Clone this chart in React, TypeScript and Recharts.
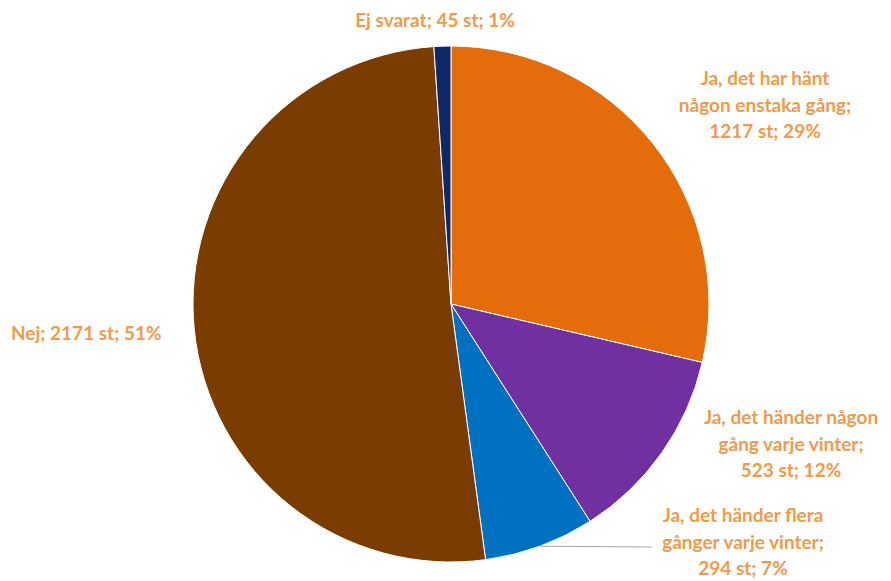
import React from 'react';
import { PieChart, Pie, Cell } from 'recharts';

const categories = [
  'Ja, det har hänt någon enstaka gång',
  'Ja, det händer någon gång varje vinter',
  'Ja, det händer flera gånger varje vinter',
  'Nej',
  'Ej svarat',
];
const counts = [1217, 523, 294, 2171, 45];
const colors = ['#E46C0A', '#7030A0', '#0070C0', '#7A3C00', '#0F2868'];

const data = categories.map((name, i) => ({ name, value: counts[i] }));

// label placement relative to pie centre, and word counts per line
const labelLayout = [
  { dx: 314, dy: -200, anchor: 'middle', breaks: [4, 3, 3] },
  { dx: 340, dy: 139, anchor: 'middle', breaks: [4, 3, 3] },
  { dx: 292, dy: 237, anchor: 'middle', breaks: [4, 3, 3], leader: { dx: 201, dy: 243 } },
  { dx: -440, dy: 28, anchor: 'start', breaks: [4] },
  { dx: -16, dy: -285, anchor: 'middle', breaks: [5] },
];

const LABEL_COLOR = '#F19A4C';
const LINE_H = 26.5;
const RAD = Math.PI / 180;

const renderLabel = (props: any) => {
  const { cx, cy, midAngle, outerRadius, index, name, value, percent } = props;
  const lay = labelLayout[index];
  const words = `${name}; ${value} st; ${Math.round(percent * 100)}%`.split(' ');
  const lines: string[] = [];
  let p = 0;
  lay.breaks.forEach((n) => {
    lines.push(words.slice(p, p + n).join(' '));
    p += n;
  });
  const x = cx + lay.dx;
  const y0 = cy + lay.dy - ((lines.length - 1) / 2) * LINE_H;
  let leader = null;
  if (lay.leader) {
    const sx = cx + outerRadius * Math.cos(-midAngle * RAD);
    const sy = cy + outerRadius * Math.sin(-midAngle * RAD);
    leader = (
      <polyline
        points={`${sx},${sy} ${cx + lay.leader.dx},${cy + lay.leader.dy}`}
        stroke="#A6A6A6"
        strokeWidth={1}
        fill="none"
      />
    );
  }
  return (
    <g key={`lbl-${index}`}>
      {leader}
      <text
        x={x}
        y={y0}
        fill={LABEL_COLOR}
        textAnchor={lay.anchor}
        fontFamily="Lato, 'Open Sans', sans-serif"
        fontWeight={700}
        fontSize={19}
      >
        {lines.map((l, i) => (
          <tspan key={i} x={x} y={y0 + i * LINE_H} dominantBaseline="central">
            {l}
          </tspan>
        ))}
      </text>
    </g>
  );
};

export default function App() {
  return (
    <div style={{ position: 'absolute', left: 0, top: 0, background: '#fff' }}>
      <PieChart width={891} height={581} margin={{ top: 0, right: 0, bottom: 0, left: 0 }}>
        <Pie
          data={data}
          dataKey="value"
          nameKey="name"
          cx={451}
          cy={304}
          outerRadius={258}
          startAngle={90}
          endAngle={-270}
          stroke="#ffffff"
          strokeWidth={1}
          label={renderLabel}
          labelLine={false}
          isAnimationActive={false}
        >
          {data.map((d, i) => (
            <Cell key={d.name} fill={colors[i]} />
          ))}
        </Pie>
      </PieChart>
    </div>
  );
}
